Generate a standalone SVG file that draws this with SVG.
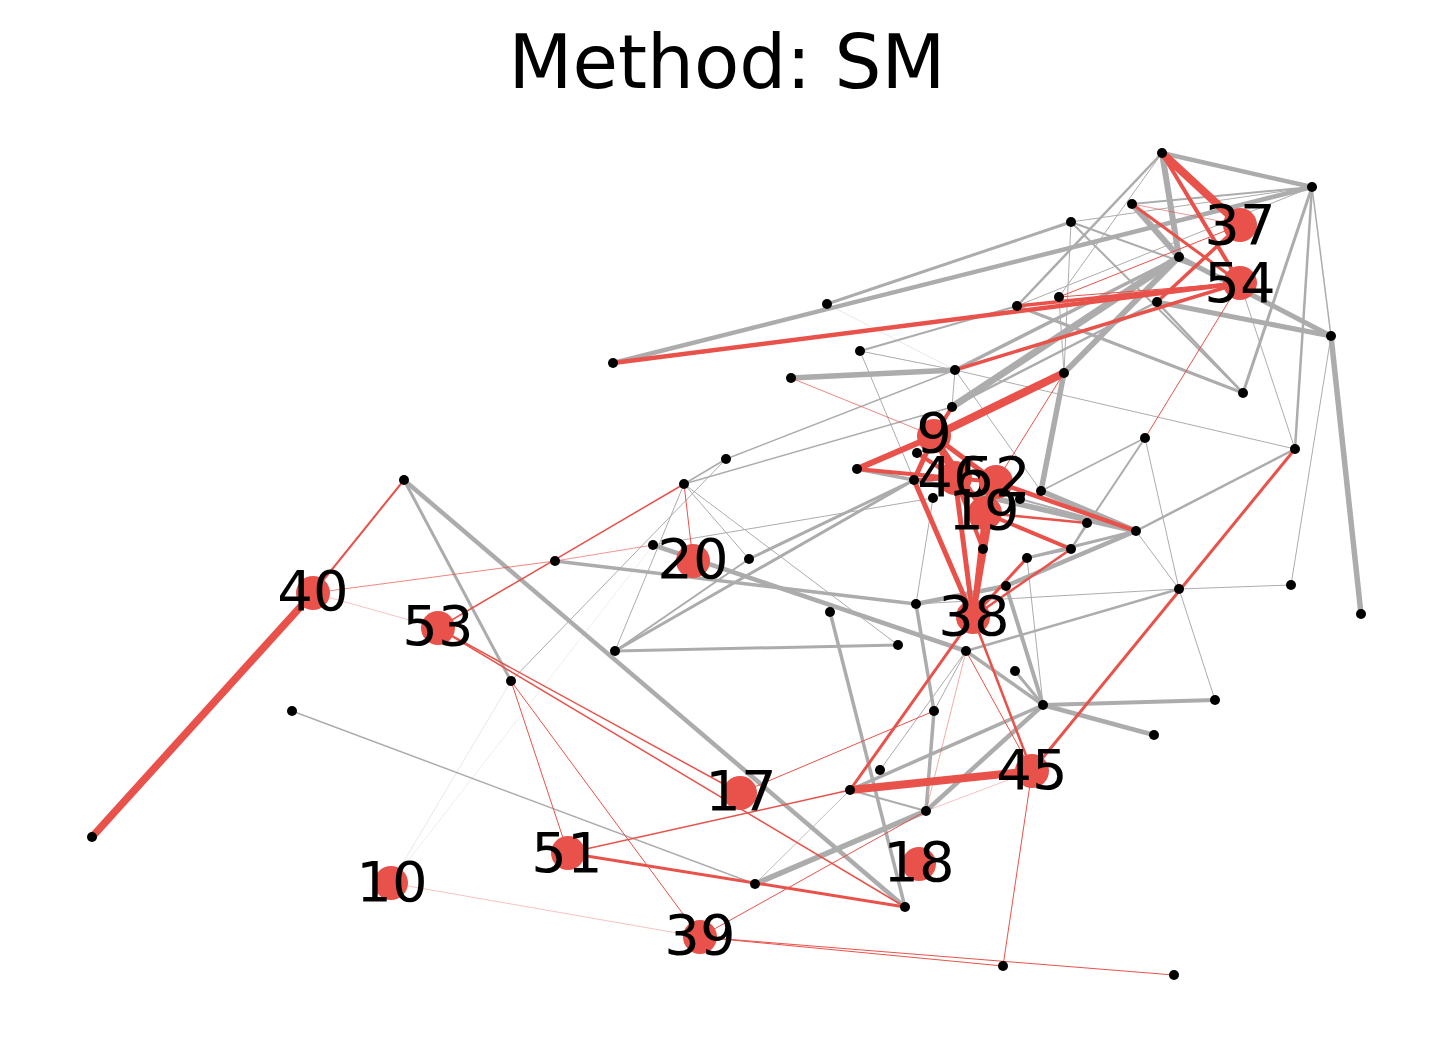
<svg xmlns="http://www.w3.org/2000/svg" width="1455" height="1048" viewBox="0 0 1455 1048">
<style>
.g{stroke:#acacac;fill:none}
.r{stroke:#e8524a;fill:none}
.f{stroke-opacity:.35}
.dot{fill:#000}
.big{fill:#e8524a}
.lbl{font-family:"DejaVu Sans","Liberation Sans",sans-serif;font-size:56px;text-anchor:middle;fill:#000}
.title{font-family:"DejaVu Sans","Liberation Sans",sans-serif;font-size:74px;text-anchor:middle;fill:#000}
</style>
<rect width="1455" height="1048" fill="#fff"/>
<text class="title" x="727" y="88">Method: SM</text>
<g id="connectors">
<line class="g" x1="1162" y1="153" x2="1312" y2="187" stroke-width="4.5"/>
<line class="g" x1="1162" y1="153" x2="1179" y2="257" stroke-width="6"/>
<line class="g" x1="1162" y1="153" x2="1017" y2="306" stroke-width="2.5"/>
<line class="g" x1="1162" y1="153" x2="1059" y2="297" stroke-width="1"/>
<line class="g" x1="613" y1="363" x2="1312" y2="187" stroke-width="4.5"/>
<line class="g" x1="827" y1="304" x2="1071" y2="222" stroke-width="3"/>
<line class="g f" x1="827" y1="304" x2="955" y2="370" stroke-width="0.8"/>
<line class="g" x1="860" y1="351" x2="955" y2="370" stroke-width="1"/>
<line class="g" x1="860" y1="351" x2="1017" y2="306" stroke-width="2"/>
<line class="g" x1="860" y1="351" x2="914" y2="480" stroke-width="1"/>
<line class="g" x1="791" y1="378" x2="955" y2="370" stroke-width="5.5"/>
<line class="g" x1="955" y1="370" x2="952" y2="407" stroke-width="1"/>
<line class="g" x1="955" y1="370" x2="1295" y2="449" stroke-width="1"/>
<line class="g" x1="955" y1="370" x2="1041" y2="491" stroke-width="1"/>
<line class="g" x1="1059" y1="297" x2="1064" y2="373" stroke-width="1"/>
<line class="g" x1="1017" y1="306" x2="1243" y2="393" stroke-width="3"/>
<line class="g" x1="1157" y1="302" x2="1331" y2="336" stroke-width="5"/>
<line class="g" x1="1157" y1="302" x2="1243" y2="393" stroke-width="2.5"/>
<line class="g" x1="1179" y1="257" x2="1331" y2="336" stroke-width="5"/>
<line class="g" x1="1132" y1="204" x2="1179" y2="257" stroke-width="6"/>
<line class="g" x1="1132" y1="204" x2="1312" y2="187" stroke-width="2"/>
<line class="g" x1="1071" y1="222" x2="1312" y2="187" stroke-width="1"/>
<line class="g" x1="1017" y1="306" x2="1312" y2="187" stroke-width="1"/>
<line class="g" x1="1312" y1="187" x2="1331" y2="336" stroke-width="1.5"/>
<line class="g" x1="1071" y1="222" x2="1240" y2="283" stroke-width="2"/>
<line class="g" x1="1071" y1="222" x2="1243" y2="393" stroke-width="2"/>
<line class="g" x1="1071" y1="222" x2="1064" y2="373" stroke-width="1"/>
<line class="g" x1="1243" y1="393" x2="1312" y2="187" stroke-width="3"/>
<line class="g" x1="1295" y1="449" x2="1312" y2="187" stroke-width="2.5"/>
<line class="g" x1="1295" y1="449" x2="1136" y2="531" stroke-width="2.5"/>
<line class="g" x1="1295" y1="449" x2="1240" y2="283" stroke-width="1"/>
<line class="g" x1="1331" y1="336" x2="1361" y2="614" stroke-width="5.5"/>
<line class="g" x1="1331" y1="336" x2="1291" y2="585" stroke-width="1"/>
<line class="g" x1="1145" y1="438" x2="1179" y2="589" stroke-width="1"/>
<line class="g" x1="1145" y1="438" x2="1071" y2="549" stroke-width="2"/>
<line class="g" x1="1145" y1="438" x2="1041" y2="491" stroke-width="1.5"/>
<line class="g" x1="1179" y1="589" x2="1291" y2="585" stroke-width="1"/>
<line class="g" x1="1179" y1="589" x2="966" y2="651" stroke-width="2.5"/>
<line class="g" x1="1179" y1="589" x2="916" y2="604" stroke-width="1"/>
<line class="g" x1="1179" y1="589" x2="1136" y2="531" stroke-width="1"/>
<line class="g" x1="1179" y1="589" x2="1215" y2="700" stroke-width="1"/>
<line class="g" x1="952" y1="407" x2="1179" y2="257" stroke-width="7"/>
<line class="g" x1="952" y1="407" x2="1157" y2="302" stroke-width="2.5"/>
<line class="g" x1="955" y1="370" x2="1179" y2="257" stroke-width="3.5"/>
<line class="g" x1="1179" y1="257" x2="1064" y2="373" stroke-width="6"/>
<line class="g" x1="1064" y1="373" x2="1041" y2="491" stroke-width="5.5"/>
<line class="g" x1="1041" y1="491" x2="1136" y2="531" stroke-width="5.5"/>
<line class="g" x1="857" y1="469" x2="914" y2="480" stroke-width="3.5"/>
<line class="g" x1="914" y1="480" x2="1136" y2="531" stroke-width="5.5"/>
<line class="g" x1="1136" y1="531" x2="1006" y2="586" stroke-width="4.5"/>
<line class="g" x1="1136" y1="531" x2="1027" y2="558" stroke-width="3"/>
<line class="g" x1="1020" y1="499" x2="1136" y2="531" stroke-width="2"/>
<line class="g" x1="1087" y1="523" x2="1071" y2="549" stroke-width="2"/>
<line class="g" x1="1071" y1="549" x2="1027" y2="558" stroke-width="2"/>
<line class="g" x1="1006" y1="586" x2="916" y2="604" stroke-width="4.5"/>
<line class="g" x1="1006" y1="586" x2="1043" y2="705" stroke-width="4"/>
<line class="g" x1="1027" y1="558" x2="1043" y2="705" stroke-width="1"/>
<line class="g" x1="933" y1="498" x2="916" y2="604" stroke-width="1"/>
<line class="g" x1="726" y1="459" x2="684" y2="484" stroke-width="1.5"/>
<line class="g" x1="726" y1="459" x2="955" y2="370" stroke-width="1.5"/>
<line class="g" x1="684" y1="484" x2="952" y2="407" stroke-width="1.5"/>
<line class="g" x1="684" y1="484" x2="749" y2="559" stroke-width="1"/>
<line class="g" x1="684" y1="484" x2="615" y2="651" stroke-width="1"/>
<line class="g" x1="684" y1="484" x2="898" y2="645" stroke-width="1"/>
<line class="g" x1="726" y1="459" x2="511" y2="681" stroke-width="1"/>
<line class="g" x1="653" y1="545" x2="966" y2="651" stroke-width="4.5"/>
<line class="g" x1="555" y1="561" x2="916" y2="604" stroke-width="3.5"/>
<line class="g" x1="615" y1="651" x2="898" y2="645" stroke-width="3"/>
<line class="g" x1="615" y1="651" x2="749" y2="559" stroke-width="2"/>
<line class="g" x1="615" y1="651" x2="914" y2="480" stroke-width="3"/>
<line class="g" x1="749" y1="559" x2="914" y2="480" stroke-width="3"/>
<line class="g" x1="653" y1="545" x2="933" y2="498" stroke-width="1"/>
<line class="g" x1="404" y1="480" x2="511" y2="681" stroke-width="3"/>
<line class="g" x1="404" y1="480" x2="905" y2="907" stroke-width="4.5"/>
<line class="g" x1="292" y1="711" x2="755" y2="884" stroke-width="1.5"/>
<line class="g" x1="755" y1="884" x2="926" y2="811" stroke-width="5.5"/>
<line class="g" x1="755" y1="884" x2="850" y2="790" stroke-width="0.8"/>
<line class="g" x1="830" y1="612" x2="905" y2="907" stroke-width="3.5"/>
<line class="g" x1="926" y1="811" x2="934" y2="711" stroke-width="3.5"/>
<line class="g" x1="934" y1="711" x2="916" y2="604" stroke-width="3.5"/>
<line class="g" x1="926" y1="811" x2="1043" y2="705" stroke-width="4.5"/>
<line class="g" x1="850" y1="790" x2="1043" y2="705" stroke-width="3.5"/>
<line class="g" x1="1043" y1="705" x2="1215" y2="700" stroke-width="4"/>
<line class="g" x1="1043" y1="705" x2="1154" y2="735" stroke-width="4.5"/>
<line class="g" x1="1043" y1="705" x2="1015" y2="671" stroke-width="3"/>
<line class="g" x1="1043" y1="705" x2="966" y2="651" stroke-width="3.5"/>
<line class="g" x1="966" y1="651" x2="880" y2="770" stroke-width="1"/>
<line class="g" x1="966" y1="651" x2="934" y2="711" stroke-width="1"/>
<line class="g" x1="850" y1="790" x2="926" y2="811" stroke-width="2"/>
<line class="g f" x1="391" y1="883" x2="511" y2="681" stroke-width="0.8"/>
<line class="g f" x1="391" y1="883" x2="653" y2="545" stroke-width="0.6"/>
<line class="r" x1="313" y1="593" x2="92" y2="837" stroke-width="7.5"/>
<line class="r" x1="313" y1="593" x2="404" y2="480" stroke-width="2"/>
<line class="r" x1="313" y1="593" x2="555" y2="561" stroke-width="1" stroke-opacity=".7"/>
<line class="r f" x1="313" y1="593" x2="438" y2="628" stroke-width="1"/>
<line class="r" x1="438" y1="628" x2="684" y2="484" stroke-width="1.5"/>
<line class="r" x1="555" y1="561" x2="653" y2="545" stroke-width="1" stroke-opacity=".6"/>
<line class="r" x1="438" y1="628" x2="905" y2="907" stroke-width="1.5"/>
<line class="r" x1="438" y1="628" x2="740" y2="793" stroke-width="1.5"/>
<line class="r" x1="511" y1="681" x2="568" y2="853" stroke-width="1"/>
<line class="r" x1="511" y1="681" x2="700" y2="937" stroke-width="1"/>
<line class="r" x1="568" y1="853" x2="905" y2="907" stroke-width="3"/>
<line class="r" x1="568" y1="853" x2="850" y2="790" stroke-width="1.5"/>
<line class="r" x1="700" y1="937" x2="1003" y2="966" stroke-width="1"/>
<line class="r" x1="700" y1="937" x2="1174" y2="975" stroke-width="1"/>
<line class="r f" x1="391" y1="883" x2="700" y2="937" stroke-width="1"/>
<line class="r" x1="700" y1="937" x2="926" y2="811" stroke-width="1"/>
<line class="r" x1="740" y1="793" x2="934" y2="711" stroke-width="1"/>
<line class="r" x1="850" y1="790" x2="1032" y2="771" stroke-width="8"/>
<line class="r" x1="850" y1="790" x2="973" y2="617" stroke-width="3"/>
<line class="r" x1="973" y1="617" x2="1032" y2="771" stroke-width="2.5"/>
<line class="r" x1="966" y1="651" x2="1032" y2="771" stroke-width="1"/>
<line class="r" x1="966" y1="651" x2="926" y2="811" stroke-width="0.8" stroke-opacity=".6"/>
<line class="r" x1="1032" y1="771" x2="1003" y2="966" stroke-width="1"/>
<line class="r" x1="1032" y1="771" x2="1295" y2="449" stroke-width="3"/>
<line class="r f" x1="926" y1="811" x2="1032" y2="771" stroke-width="1"/>
<line class="r" x1="934" y1="436" x2="955" y2="478" stroke-width="6"/>
<line class="r" x1="934" y1="436" x2="996" y2="482" stroke-width="5"/>
<line class="r" x1="934" y1="436" x2="985" y2="513" stroke-width="5"/>
<line class="r" x1="934" y1="436" x2="914" y2="480" stroke-width="5"/>
<line class="r" x1="934" y1="436" x2="857" y2="469" stroke-width="6"/>
<line class="r" x1="934" y1="436" x2="1064" y2="373" stroke-width="8"/>
<line class="r" x1="934" y1="436" x2="952" y2="407" stroke-width="4"/>
<line class="r" x1="934" y1="436" x2="791" y2="378" stroke-width="1" stroke-opacity=".7"/>
<line class="r" x1="955" y1="478" x2="914" y2="480" stroke-width="4"/>
<line class="r" x1="955" y1="478" x2="973" y2="617" stroke-width="5"/>
<line class="r" x1="996" y1="482" x2="973" y2="617" stroke-width="5"/>
<line class="r" x1="985" y1="513" x2="973" y2="617" stroke-width="5"/>
<line class="r" x1="914" y1="480" x2="973" y2="617" stroke-width="5"/>
<line class="r" x1="857" y1="469" x2="996" y2="482" stroke-width="4"/>
<line class="r" x1="996" y1="482" x2="1136" y2="531" stroke-width="4.5"/>
<line class="r" x1="985" y1="513" x2="1071" y2="549" stroke-width="4"/>
<line class="r" x1="1064" y1="373" x2="996" y2="482" stroke-width="1"/>
<line class="r" x1="985" y1="513" x2="1087" y2="523" stroke-width="2.5"/>
<line class="r" x1="973" y1="617" x2="1071" y2="549" stroke-width="2.5"/>
<line class="r" x1="973" y1="617" x2="1027" y2="558" stroke-width="3"/>
<line class="r" x1="955" y1="478" x2="917" y2="453" stroke-width="4"/>
<line class="r" x1="955" y1="478" x2="983" y2="549" stroke-width="4"/>
<line class="r" x1="955" y1="370" x2="1240" y2="283" stroke-width="3.5"/>
<line class="r" x1="1017" y1="306" x2="1240" y2="283" stroke-width="3.5"/>
<line class="r" x1="1059" y1="297" x2="1240" y2="283" stroke-width="1"/>
<line class="r" x1="1059" y1="297" x2="1240" y2="225" stroke-width="1"/>
<line class="r" x1="613" y1="363" x2="1240" y2="283" stroke-width="4.5"/>
<line class="r" x1="1132" y1="204" x2="1240" y2="283" stroke-width="3"/>
<line class="r" x1="1162" y1="153" x2="1240" y2="225" stroke-width="8"/>
<line class="r" x1="1162" y1="153" x2="1240" y2="283" stroke-width="4"/>
<line class="r" x1="1157" y1="302" x2="1240" y2="225" stroke-width="3.5"/>
<line class="r" x1="1132" y1="204" x2="1240" y2="225" stroke-width="1" stroke-opacity=".6"/>
<line class="r" x1="1145" y1="438" x2="1240" y2="283" stroke-width="1"/>
<line class="r" x1="684" y1="484" x2="693" y2="561" stroke-width="1"/>
</g>
<g id="node-37"><circle class="big" cx="1240" cy="225" r="17"/><text class="lbl" x="1240" y="244">37</text></g>
<g id="node-54"><circle class="big" cx="1240" cy="283" r="17"/><text class="lbl" x="1240" y="302">54</text></g>
<g id="node-9"><circle class="big" cx="934" cy="436" r="17"/><text class="lbl" x="934" y="452">9</text></g>
<g id="node-46"><circle class="big" cx="955" cy="478" r="17"/><text class="lbl" x="953" y="496">46</text></g>
<g id="node-52"><circle class="big" cx="996" cy="482" r="17"/><text class="lbl" x="995" y="496">52</text></g>
<g id="node-19"><circle class="big" cx="985" cy="513" r="17"/><text class="lbl" x="984" y="529">19</text></g>
<g id="node-38"><circle class="big" cx="973" cy="617" r="17"/><text class="lbl" x="974" y="635">38</text></g>
<g id="node-20"><circle class="big" cx="693" cy="561" r="17"/><text class="lbl" x="693" y="578">20</text></g>
<g id="node-40"><circle class="big" cx="313" cy="593" r="17"/><text class="lbl" x="313" y="610">40</text></g>
<g id="node-53"><circle class="big" cx="438" cy="628" r="17"/><text class="lbl" x="438" y="645">53</text></g>
<g id="node-17"><circle class="big" cx="740" cy="793" r="17"/><text class="lbl" x="741" y="810">17</text></g>
<g id="node-51"><circle class="big" cx="568" cy="853" r="17"/><text class="lbl" x="567" y="872">51</text></g>
<g id="node-10"><circle class="big" cx="391" cy="883" r="17"/><text class="lbl" x="392" y="901">10</text></g>
<g id="node-18"><circle class="big" cx="919" cy="864" r="17"/><text class="lbl" x="919" y="881">18</text></g>
<g id="node-39"><circle class="big" cx="700" cy="937" r="17"/><text class="lbl" x="700" y="954">39</text></g>
<g id="node-45"><circle class="big" cx="1032" cy="771" r="17"/><text class="lbl" x="1032" y="789">45</text></g>
<g id="n1"><circle class="dot" cx="1162" cy="153" r="5"/></g>
<g id="n2"><circle class="dot" cx="1312" cy="187" r="5"/></g>
<g id="n3"><circle class="dot" cx="1132" cy="204" r="5"/></g>
<g id="n4"><circle class="dot" cx="1071" cy="222" r="5"/></g>
<g id="n5"><circle class="dot" cx="1179" cy="257" r="5"/></g>
<g id="n6"><circle class="dot" cx="1059" cy="297" r="5"/></g>
<g id="n7"><circle class="dot" cx="1017" cy="306" r="5"/></g>
<g id="n8"><circle class="dot" cx="1157" cy="302" r="5"/></g>
<g id="n9"><circle class="dot" cx="1331" cy="336" r="5"/></g>
<g id="n10"><circle class="dot" cx="827" cy="304" r="5"/></g>
<g id="n11"><circle class="dot" cx="613" cy="363" r="5"/></g>
<g id="n12"><circle class="dot" cx="860" cy="351" r="5"/></g>
<g id="n13"><circle class="dot" cx="791" cy="378" r="5"/></g>
<g id="n14"><circle class="dot" cx="955" cy="370" r="5"/></g>
<g id="n15"><circle class="dot" cx="1064" cy="373" r="5"/></g>
<g id="n16"><circle class="dot" cx="1243" cy="393" r="5"/></g>
<g id="n17"><circle class="dot" cx="952" cy="407" r="5"/></g>
<g id="n18"><circle class="dot" cx="1145" cy="438" r="5"/></g>
<g id="n19"><circle class="dot" cx="1295" cy="449" r="5"/></g>
<g id="n20"><circle class="dot" cx="726" cy="459" r="5"/></g>
<g id="n21"><circle class="dot" cx="857" cy="469" r="5"/></g>
<g id="n22"><circle class="dot" cx="684" cy="484" r="5"/></g>
<g id="n23"><circle class="dot" cx="404" cy="480" r="5"/></g>
<g id="n24"><circle class="dot" cx="917" cy="453" r="5"/></g>
<g id="n25"><circle class="dot" cx="914" cy="480" r="5"/></g>
<g id="n26"><circle class="dot" cx="933" cy="498" r="5"/></g>
<g id="n27"><circle class="dot" cx="1041" cy="491" r="5"/></g>
<g id="n28"><circle class="dot" cx="1020" cy="499" r="5"/></g>
<g id="n29"><circle class="dot" cx="1087" cy="523" r="5"/></g>
<g id="n30"><circle class="dot" cx="1136" cy="531" r="5"/></g>
<g id="n31"><circle class="dot" cx="1071" cy="549" r="5"/></g>
<g id="n32"><circle class="dot" cx="983" cy="549" r="5"/></g>
<g id="n33"><circle class="dot" cx="1027" cy="558" r="5"/></g>
<g id="n34"><circle class="dot" cx="1006" cy="586" r="5"/></g>
<g id="n35"><circle class="dot" cx="653" cy="545" r="5"/></g>
<g id="n36"><circle class="dot" cx="749" cy="559" r="5"/></g>
<g id="n37"><circle class="dot" cx="555" cy="561" r="5"/></g>
<g id="n38"><circle class="dot" cx="1179" cy="589" r="5"/></g>
<g id="n39"><circle class="dot" cx="1291" cy="585" r="5"/></g>
<g id="n40"><circle class="dot" cx="1361" cy="614" r="5"/></g>
<g id="n41"><circle class="dot" cx="916" cy="604" r="5"/></g>
<g id="n42"><circle class="dot" cx="830" cy="612" r="5"/></g>
<g id="n43"><circle class="dot" cx="898" cy="645" r="5"/></g>
<g id="n44"><circle class="dot" cx="966" cy="651" r="5"/></g>
<g id="n45"><circle class="dot" cx="1015" cy="671" r="5"/></g>
<g id="n46"><circle class="dot" cx="615" cy="651" r="5"/></g>
<g id="n47"><circle class="dot" cx="511" cy="681" r="5"/></g>
<g id="n48"><circle class="dot" cx="1043" cy="705" r="5"/></g>
<g id="n49"><circle class="dot" cx="1215" cy="700" r="5"/></g>
<g id="n50"><circle class="dot" cx="934" cy="711" r="5"/></g>
<g id="n51"><circle class="dot" cx="292" cy="711" r="5"/></g>
<g id="n52"><circle class="dot" cx="1154" cy="735" r="5"/></g>
<g id="n53"><circle class="dot" cx="880" cy="770" r="5"/></g>
<g id="n54"><circle class="dot" cx="850" cy="790" r="5"/></g>
<g id="n55"><circle class="dot" cx="926" cy="811" r="5"/></g>
<g id="n56"><circle class="dot" cx="92" cy="837" r="5"/></g>
<g id="n57"><circle class="dot" cx="755" cy="884" r="5"/></g>
<g id="n58"><circle class="dot" cx="905" cy="907" r="5"/></g>
<g id="n59"><circle class="dot" cx="1003" cy="966" r="5"/></g>
<g id="n60"><circle class="dot" cx="1174" cy="975" r="5"/></g>
</svg>
